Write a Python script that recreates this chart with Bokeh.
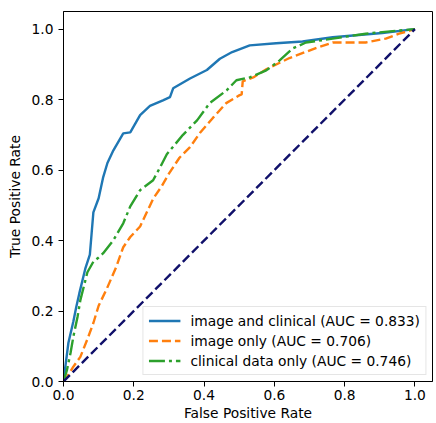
from bokeh.plotting import figure
from bokeh.models import Range1d, FixedTicker, PrintfTickFormatter, Legend, LegendItem
from bokeh.embed import file_html
from bokeh.resources import INLINE

# ROC curve: image and clinical (AUC = 0.833)
both_fpr = [0.0, 0.005, 0.014, 0.028, 0.036, 0.045, 0.062, 0.075, 0.08, 0.085, 0.1, 0.113,
            0.125, 0.142, 0.17, 0.19, 0.218, 0.246, 0.283, 0.303, 0.312, 0.36, 0.408, 0.445,
            0.48, 0.53, 0.605, 0.68, 0.766, 0.907, 1.0]
both_tpr = [0.0, 0.04, 0.11, 0.17, 0.21, 0.25, 0.32, 0.36, 0.42, 0.48, 0.52, 0.58,
            0.62, 0.656, 0.704, 0.707, 0.756, 0.782, 0.798, 0.807, 0.832, 0.86, 0.884, 0.916,
            0.935, 0.954, 0.96, 0.965, 0.977, 0.989, 1.0]

# ROC curve: image only (AUC = 0.706)
img_fpr = [0.0, 0.01, 0.028, 0.048, 0.068, 0.085, 0.1, 0.124, 0.15, 0.17, 0.19, 0.218, 0.237,
           0.256, 0.28, 0.3, 0.33, 0.36, 0.388, 0.425, 0.463, 0.5, 0.507, 0.51, 0.54, 0.577,
           0.643, 0.718, 0.766, 0.86, 0.917, 0.955, 1.0]
img_tpr = [0.0, 0.013, 0.042, 0.07, 0.12, 0.166, 0.215, 0.265, 0.325, 0.381, 0.41, 0.44, 0.48,
           0.52, 0.555, 0.59, 0.635, 0.665, 0.705, 0.748, 0.79, 0.812, 0.815, 0.852, 0.863, 0.886,
           0.918, 0.946, 0.962, 0.962, 0.973, 0.987, 1.0]

# ROC curve: clinical data only (AUC = 0.746)
clin_fpr = [0.0, 0.01, 0.02, 0.028, 0.04, 0.048, 0.068, 0.085, 0.1, 0.113, 0.142, 0.17, 0.19,
            0.218, 0.255, 0.275, 0.294, 0.34, 0.38, 0.416, 0.464, 0.492, 0.53, 0.577, 0.615,
            0.652, 0.69, 0.766, 0.86, 0.955, 1.0]
clin_tpr = [0.0, 0.033, 0.081, 0.127, 0.184, 0.231, 0.31, 0.34, 0.352, 0.364, 0.401, 0.449, 0.497,
            0.543, 0.571, 0.608, 0.645, 0.7, 0.741, 0.79, 0.826, 0.855, 0.863, 0.883, 0.911,
            0.945, 0.962, 0.973, 0.987, 0.996, 1.0]

# chance line
diag_x = [0.0, 1.0]
diag_y = [0.0, 1.0]

labels = ["image and clinical (AUC = 0.833)",
          "image only (AUC = 0.706)",
          "clinical data only (AUC = 0.746)"]
ticks = [0.0, 0.2, 0.4, 0.6, 0.8, 1.0]

FONT = "DejaVu Sans"
FS = "13.8px"

p = figure(width=436, height=423, output_backend="svg", toolbar_location=None,
           x_range=Range1d(0.0, 1.05), y_range=Range1d(0.0, 1.05),
           min_border_left=63, min_border_right=4, min_border_top=11, min_border_bottom=42,
           background_fill_color="white", border_fill_color="white")

p.xgrid.visible = False
p.ygrid.visible = False
p.outline_line_color = "black"
p.outline_line_width = 1

for ax in (p.xaxis[0], p.yaxis[0]):
    ax.ticker = FixedTicker(ticks=ticks)
    ax.formatter = PrintfTickFormatter(format="%.1f")
    ax.major_tick_out = 5
    ax.major_tick_in = 0
    ax.minor_tick_out = 0
    ax.minor_tick_in = 0
    ax.axis_line_color = "black"
    ax.major_tick_line_color = "black"
    ax.major_label_text_font = FONT
    ax.major_label_text_font_size = FS
    ax.major_label_text_color = "black"
    ax.axis_label_text_font = FONT
    ax.axis_label_text_font_size = FS
    ax.axis_label_text_font_style = "normal"
    ax.axis_label_text_color = "black"

p.xaxis.axis_label = "False Positive Rate"
p.yaxis.axis_label = "True Positive Rate"
p.xaxis.major_label_standoff = 3
p.xaxis.axis_label_standoff = 2
p.yaxis.major_label_standoff = 5
p.yaxis.axis_label_standoff = 6

r1 = p.line(both_fpr, both_tpr, line_color="#1f77b4", line_width=2.4)
r2 = p.line(img_fpr, img_tpr, line_color="#ff7f0e", line_width=2.4, line_dash="9 4")
r3 = p.line(clin_fpr, clin_tpr, line_color="#2ca02c", line_width=2.4, line_dash="16 4 3 4")
p.line(diag_x, diag_y, line_color="#10106a", line_width=2.4, line_dash="9 4")

legend = Legend(items=[LegendItem(label=labels[0], renderers=[r1]),
                       LegendItem(label=labels[1], renderers=[r2]),
                       LegendItem(label=labels[2], renderers=[r3])],
                location="bottom_right")
legend.margin = 6
legend.padding = 5
legend.spacing = 3
legend.label_height = 17
legend.glyph_height = 17
legend.glyph_width = 32
legend.label_standoff = 10
legend.label_text_font = FONT
legend.label_text_font_size = FS
legend.label_text_color = "black"
legend.border_line_color = "#cccccc"
legend.border_line_width = 1
legend.background_fill_color = "white"
legend.background_fill_alpha = 0.8
p.add_layout(legend)

open("out.html", "w").write(file_html(p, INLINE))
